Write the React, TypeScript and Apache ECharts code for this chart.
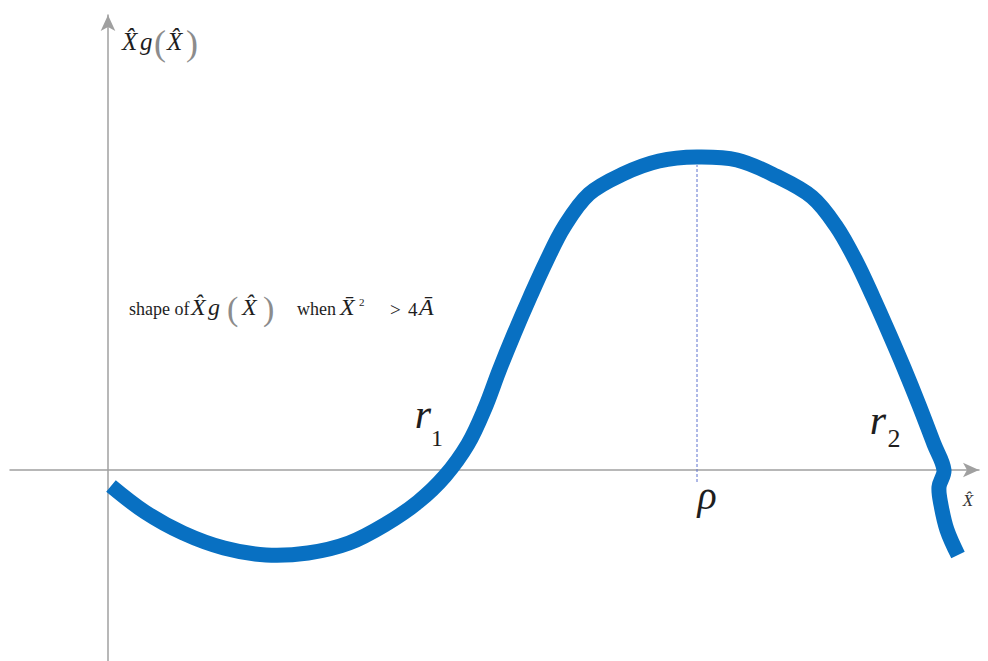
import { useEffect, useRef } from "react";
import * as echarts from "echarts";

// Sketch of X̂g(X̂): dips below zero, crosses at r1, peaks above ρ, falls back through r2.
// Points are spaced roughly evenly along the stroke so the spline stays round.
const curveX = [
  0.03, 0.37, 0.75, 1.16, 1.58, 2.0, 2.41, 2.78, 3.1, 3.37, 3.6, 3.77, 3.91,
  4.06, 4.22, 4.38, 4.56, 4.81, 5.15, 5.51, 5.89, 6.29, 6.68, 7.04, 7.28, 7.48,
  7.65, 7.81, 7.96, 8.11, 8.26, 8.36, 8.31, 8.33, 8.39, 8.5,
];
const curveY = [
  -0.16, -0.42, -0.63, -0.78, -0.85, -0.83, -0.73, -0.54, -0.32, -0.06, 0.26,
  0.62, 0.99, 1.36, 1.73, 2.08, 2.43, 2.76, 2.96, 3.09, 3.13, 3.1, 2.94, 2.73,
  2.44, 2.09, 1.73, 1.37, 1.02, 0.65, 0.26, 0.0, -0.17, -0.35, -0.6, -0.85,
];

// Peak abscissa ρ and the extent of its dashed guide
const rhoX = 5.89;
const rhoGuide = [-0.12, 3.05];

// Visible window of the two axes
const xRange = [-0.98, 8.71];
const yRange = [-1.91, 4.55];

const SERIF = '"Liberation Serif", "Times New Roman", serif';
const INK = "#1e1e1e";
const PAREN = "#8c8c8c";
const CURVE_BLUE = "#0870c2";

type Piece = { text: string; x: number; y: number; size: number; italic?: boolean; color?: string; align?: string };

// Caption pieces laid out one by one so the math keeps its wide spacing
const labelPieces: Piece[] = [
  // axis title X̂g(X̂)
  { text: "X̂", x: 122, y: 41, size: 25, italic: true },
  { text: "g", x: 140, y: 41, size: 25, italic: true },
  { text: "(", x: 154, y: 43, size: 36, color: PAREN },
  { text: "X̂", x: 167, y: 41, size: 25, italic: true },
  { text: ")", x: 186, y: 43, size: 36, color: PAREN },
  // shape of X̂g(X̂) when X̄² > 4Ā
  { text: "shape of", x: 129, y: 309, size: 18 },
  { text: "X̂", x: 191, y: 307, size: 24, italic: true },
  { text: "g", x: 208, y: 307, size: 24, italic: true },
  { text: "(", x: 227, y: 308, size: 34, color: PAREN },
  { text: "X̂", x: 242, y: 307, size: 24, italic: true },
  { text: ")", x: 263, y: 308, size: 34, color: PAREN },
  { text: "when", x: 297, y: 309, size: 18 },
  { text: "X̄", x: 340, y: 307, size: 24, italic: true },
  { text: "2", x: 359, y: 302, size: 11 },
  { text: ">", x: 390, y: 309, size: 19 },
  { text: "4", x: 408, y: 309, size: 19 },
  { text: "Ā", x: 419, y: 307, size: 24, italic: true },
  // root and peak markers
  { text: "r", x: 423, y: 414, size: 42, italic: true, align: "center" },
  { text: "1", x: 437, y: 438, size: 24, align: "center" },
  { text: "r", x: 878, y: 420, size: 42, italic: true, align: "center" },
  { text: "2", x: 894, y: 438, size: 26, align: "center" },
  { text: "ρ", x: 707, y: 495, size: 40, italic: true, align: "center" },
  { text: "X̂", x: 968, y: 500, size: 17, italic: true, align: "center", color: "#333" },
];

export default function App() {
  const ref = useRef<HTMLDivElement>(null);

  useEffect(() => {
    const chart = echarts.init(ref.current!, null, { renderer: "svg" });
    const axisLine = {
      show: true,
      onZero: true,
      symbol: ["none", "arrow"],
      symbolSize: [11, 16],
      lineStyle: { color: "#a0a0a0", width: 1.5 },
    };
    const curveData = curveX.map((x, i) => [x, curveY[i]]);
    chart.setOption({
      animation: false,
      backgroundColor: "#ffffff",
      grid: { left: 10, right: 9, top: 15, bottom: 0, containLabel: false },
      xAxis: {
        type: "value",
        min: xRange[0],
        max: xRange[1],
        axisLine,
        axisTick: { show: false },
        axisLabel: { show: false },
        splitLine: { show: false },
      },
      yAxis: {
        type: "value",
        min: yRange[0],
        max: yRange[1],
        axisLine,
        axisTick: { show: false },
        axisLabel: { show: false },
        splitLine: { show: false },
      },
      series: [
        {
          type: "line",
          data: [
            [rhoX, rhoGuide[0]],
            [rhoX, rhoGuide[1]],
          ],
          symbol: "none",
          lineStyle: { color: "#5f72cf", width: 1, type: [3, 2] },
          z: 2,
        },
        {
          // one thick spline through every point, placed with the axes' own scales
          type: "custom",
          data: curveData,
          encode: { x: 0, y: 1 },
          z: 3,
          renderItem: (params: any, api: any) => {
            if (params.dataIndex !== 0) return null;
            return {
              type: "polyline",
              shape: {
                points: curveData.map((p) => api.coord(p)),
                smooth: 0.35,
              },
              style: {
                stroke: CURVE_BLUE,
                fill: null,
                lineWidth: 15,
                lineCap: "butt",
                lineJoin: "round",
              },
            };
          },
        },
      ],
      graphic: labelPieces.map((p) => ({
        type: "text",
        x: p.x,
        y: p.y,
        style: {
          text: p.text,
          font: `${p.italic ? "italic " : ""}${p.size}px ${SERIF}`,
          fill: p.color ?? INK,
          align: p.align ?? "left",
          verticalAlign: "middle",
        },
      })),
    });
    return () => chart.dispose();
  }, []);

  return (
    <div
      ref={ref}
      style={{ position: "fixed", left: 0, top: 0, width: 988, height: 661, background: "#fff" }}
    />
  );
}
